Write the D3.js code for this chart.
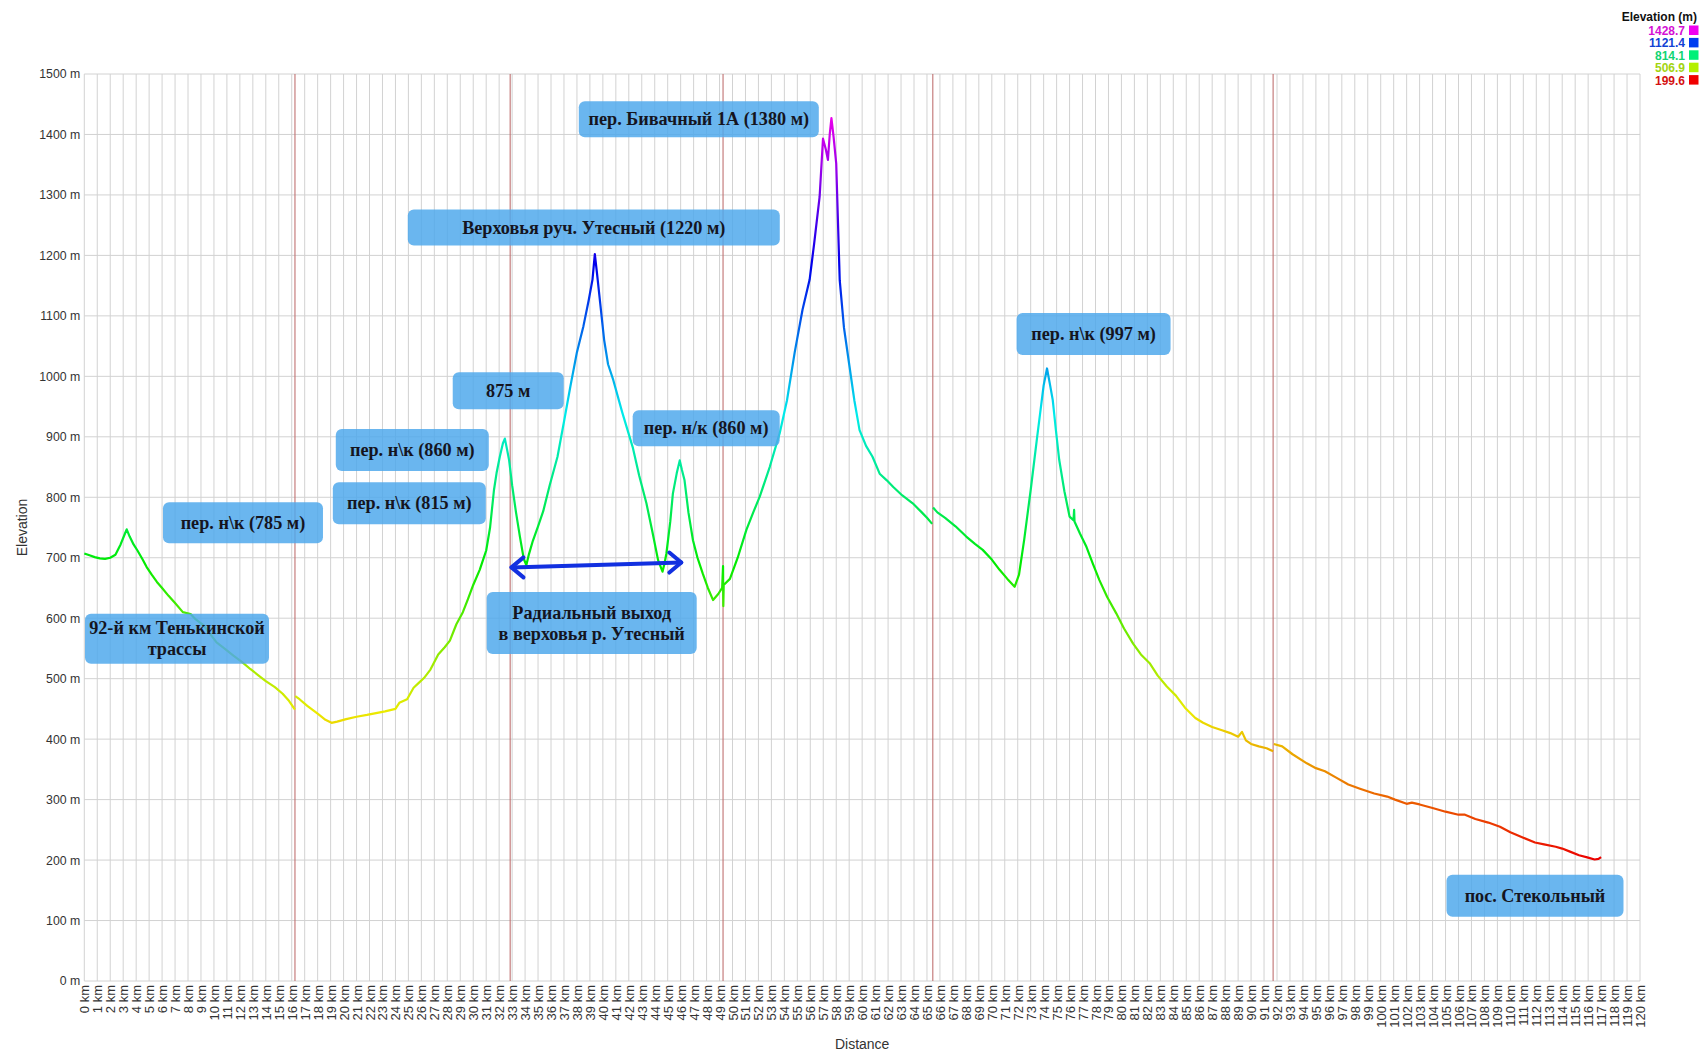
<!DOCTYPE html>
<html><head><meta charset="utf-8">
<script src="https://cdn.jsdelivr.net/npm/d3@7"></script>
<style>
html,body{margin:0;padding:0;background:#fff;}
svg{display:block;font-family:"Liberation Sans",Arial,sans-serif;}
</style></head>
<body><svg id="chart" width="1703" height="1051"></svg>
<script>
// ---- DATA ----
// distance (km) and elevation (m); null marks a break between track pieces
const distanceKm = [
0,0.4,0.8,1.2,1.6,2.0,2.4,2.8,3.1,3.27,3.5,3.8,4.1,4.5,4.8,5.2,5.6,6.0,6.5,7.0,7.6,8.2,8.6,9.2,9.7,10.2,10.8,11.5,12.2,12.8,13.4,14.0,14.7,15.3,15.8,16.25,
null,
16.27,16.6,17.2,18.0,18.6,19.07,19.5,20.2,21.0,21.8,22.5,23.2,24.0,24.3,24.9,25.4,25.8,26.2,26.7,27.3,27.8,28.2,28.7,29.2,29.6,30.0,30.5,31.0,31.3,31.6,31.8,32.05,32.3,32.44,32.6,32.77,33.0,33.3,33.6,33.9,34.1,34.3,34.6,35.0,35.4,35.9,36.5,37.0,37.5,38.0,38.5,38.9,39.2,39.38,39.55,39.8,40.1,40.4,40.8,41.5,42.3,42.8,43.36,43.8,44.26,44.6,44.75,44.9,45.2,45.4,45.7,45.93,46.1,46.3,46.6,46.95,47.3,47.7,48.1,48.5,48.9,49.2,49.27,49.29,49.32,49.8,50.4,51.07,51.6,52.1,52.87,53.64,54.2,54.8,55.4,55.95,56.3,56.72,56.98,57.2,57.36,57.5,57.63,57.8,58.0,58.27,58.6,59.0,59.4,59.8,60.3,60.8,61.35,61.9,62.4,63.1,63.9,64.6,65.0,65.4,
null,
65.47,65.8,66.4,67.2,68.03,68.7,69.3,70.0,70.6,71.2,71.76,72.1,72.5,73.0,73.5,74.0,74.26,74.5,74.7,74.95,75.2,75.6,76.0,76.3,76.35,76.38,76.8,77.3,77.8,78.3,78.9,79.6,80.2,80.9,81.5,82.2,82.8,83.5,84.2,84.9,85.7,86.3,87.0,87.7,88.4,89.0,89.3,89.6,90.0,90.6,91.2,91.7,
null,
91.75,92.4,93.2,94.3,95.0,95.7,96.6,97.5,98.4,99.5,100.5,101.1,102.0,102.4,103.0,104.0,105.0,106.0,106.5,107.3,108.3,109.2,110.0,111.0,111.9,112.6,113.5,114.0,114.6,115.3,116.0,116.5,116.8,117.0
];
const elevationM = [
707,704,701,699,698,700,705,722,738,747,735,722,712,697,685,672,660,650,637,625,610,607,598,588,574,560,550,538,527,516,506,496,486,475,463,449,
null,
471,466,455,442,432,427,429,433,437,440,443,446,450,460,466,485,493,501,515,540,552,563,590,610,632,655,680,712,750,812,840,867,890,897,880,861,820,775,735,698,688,706,728,752,777,820,867,925,984,1040,1083,1125,1160,1202,1170,1120,1060,1020,994,940,883,836,790,745,696,677,690,707,760,806,840,861,845,828,775,729,700,674,650,630,640,650,686,620,655,665,700,746,775,801,850,906,960,1040,1110,1160,1220,1297,1393,1375,1358,1400,1427,1395,1352,1159,1080,1020,960,911,885,867,839,828,817,803,790,775,766,756,
null,
783,775,766,752,735,723,713,697,680,665,652,672,730,812,900,985,1013,985,961,910,862,810,768,762,779,760,740,718,690,663,635,608,583,558,540,525,505,487,472,452,435,427,420,415,410,404,412,398,392,388,385,380,
null,
392,388,375,360,352,347,336,325,318,310,305,300,293,295,292,286,280,275,275,268,262,255,246,237,229,226,222,219,214,208,204,201,202,205
];
// positions (km) of the red lines between track pieces
const trackBreaksKm = [16.25, 32.85, 49.27, 65.45, 91.7];
// legend values (m)
const legendValues = [1428.7, 1121.4, 814.1, 506.9, 199.6];
// annotation texts
const annotationTexts = [
  ["пер. н\\к (785 м)"],
  ["92-й км Тенькинской","трассы"],
  ["пер. н\\к (860 м)"],
  ["пер. н\\к (815 м)"],
  ["875 м"],
  ["Радиальный выход","в верховья р. Утесный"],
  ["пер. н/к (860 м)"],
  ["Верховья руч. Утесный (1220 м)"],
  ["пер. Бивачный 1А (1380 м)"],
  ["пер. н\\к (997 м)"],
  ["пос. Стекольный"]
];
// radial exit arrow ends (km, m)
const arrowKm = [32.95, 46.05];
const arrowM = [684, 692];

// ---- LAYOUT ----
const W = 1703, H = 1051;
const plot = {left: 84.3, right: 1640, top: 74, bottom: 981};
// annotation box centres in data units and box sizes in px
const annotationLayout = [
  {km: 12.24, m: 758, w: 160, h: 41},
  {km: 7.15,  m: 566, w: 184, h: 50},
  {km: 25.3,  m: 878, w: 153, h: 42},
  {km: 25.07, m: 790, w: 153, h: 42},
  {km: 32.7,  m: 976, w: 111, h: 37},
  {km: 39.14, m: 592, w: 210, h: 62},
  {km: 47.97, m: 914, w: 147, h: 36},
  {km: 39.3,  m: 1246, w: 372, h: 36},
  {km: 47.4,  m: 1425, w: 240, h: 36},
  {km: 77.85, m: 1070, w: 154, h: 42},
  {km: 111.9, m: 141, w: 177, h: 42}
];

const svg = d3.select("#chart");
const x = d3.scaleLinear().domain([0, 120]).range([plot.left, plot.right]);
const y = d3.scaleLinear().domain([0, 1500]).range([plot.bottom, plot.top]);

const minE = legendValues[legendValues.length-1], maxE = legendValues[0];
const hueOf = v => Math.max(0, Math.min(300, (v - minE) / (maxE - minE) * 300));
const colorOf = v => d3.hsl(hueOf(v), 1, 0.46).formatHex();

// gradient for the line (vertical, by elevation)
const defs = svg.append("defs");
const grad = defs.append("linearGradient").attr("id", "elevGrad")
  .attr("gradientUnits", "userSpaceOnUse")
  .attr("x1", 0).attr("x2", 0).attr("y1", y(minE)).attr("y2", y(maxE));
d3.range(0, 1.0001, 0.05).forEach(t => {
  grad.append("stop").attr("offset", t).attr("stop-color", colorOf(minE + t * (maxE - minE)));
});

// grid
const grid = svg.append("g");
grid.selectAll("line.v").data(d3.range(0, 121)).join("line")
  .attr("x1", d => x(d)).attr("x2", d => x(d))
  .attr("y1", plot.top).attr("y2", plot.bottom)
  .attr("stroke", "#d2d2d2").attr("stroke-width", 1);
grid.selectAll("line.h").data(d3.range(0, 1501, 100)).join("line")
  .attr("x1", plot.left).attr("x2", plot.right)
  .attr("y1", d => y(d)).attr("y2", d => y(d))
  .attr("stroke", "#d2d2d2").attr("stroke-width", 1);

// track break lines
svg.append("g").selectAll("line").data(trackBreaksKm).join("line")
  .attr("x1", d => x(d)).attr("x2", d => x(d))
  .attr("y1", plot.top).attr("y2", plot.bottom)
  .attr("stroke", "#c07272").attr("stroke-width", 1.1);

// axes
const yAxis = d3.axisLeft(y).tickValues(d3.range(0, 1501, 100))
  .tickFormat(d => d + " m").tickSize(0).tickPadding(4);
const gy = svg.append("g").attr("transform", `translate(${plot.left},0)`).call(yAxis);
gy.select(".domain").remove();
gy.selectAll("text").attr("font-size", 12.3).attr("fill", "#333")
  .attr("font-family", "'Liberation Sans',Arial,sans-serif");

const xAxis = d3.axisBottom(x).tickValues(d3.range(0, 121, 1))
  .tickFormat(d => d + " km").tickSize(0).tickPadding(0);
const gx = svg.append("g").attr("transform", `translate(0,${plot.bottom})`).call(xAxis);
gx.select(".domain").remove();
gx.selectAll("text")
  .attr("font-size", 13).attr("fill", "#333")
  .attr("font-family", "'Liberation Sans',Arial,sans-serif")
  .attr("text-anchor", "end")
  .attr("dy", null).attr("y", 0)
  .attr("transform", "translate(0,4) rotate(-90)")
  .attr("dominant-baseline", "central");

// axis titles
svg.append("text").attr("x", (plot.left + plot.right) / 2).attr("y", 1049)
  .attr("text-anchor", "middle").attr("font-size", 14).attr("fill", "#333").text("Distance");
svg.append("text").attr("transform", `translate(27,${(plot.top + plot.bottom) / 2}) rotate(-90)`)
  .attr("text-anchor", "middle").attr("font-size", 14).attr("fill", "#333").text("Elevation");

// profile line
const pts = distanceKm.map((d, i) => ({km: d, m: elevationM[i]}));
const line = d3.line().defined(d => d.km !== null && d.m !== null)
  .x(d => x(d.km)).y(d => y(d.m));
svg.append("path").datum(pts).attr("d", line)
  .attr("fill", "none").attr("stroke", "url(#elevGrad)")
  .attr("stroke-width", 2.2).attr("stroke-linejoin", "round");

// annotation boxes
const ann = svg.append("g");
annotationTexts.forEach((lines, i) => {
  const L = annotationLayout[i];
  const cx = x(L.km), cy = y(L.m);
  const g = ann.append("g");
  g.append("rect").attr("x", cx - L.w / 2).attr("y", cy - L.h / 2)
    .attr("width", L.w).attr("height", L.h).attr("rx", 6).attr("ry", 6)
    .attr("fill", "rgb(78,168,236)").attr("fill-opacity", 0.84);
  const lh = 21;
  lines.forEach((t, j) => {
    g.append("text").attr("x", cx).attr("y", cy + (j - (lines.length - 1) / 2) * lh)
      .attr("text-anchor", "middle").attr("dominant-baseline", "central")
      .attr("font-family", "'Liberation Serif','Times New Roman',serif")
      .attr("font-weight", "bold").attr("font-size", 18.2).attr("fill", "#15151f")
      .text(t);
  });
});

// double arrow
const ax1 = x(arrowKm[0]), ay1 = y(arrowM[0]), ax2 = x(arrowKm[1]), ay2 = y(arrowM[1]);
const arrow = svg.append("g").attr("stroke", "#1230e0").attr("stroke-width", 4)
  .attr("fill", "none").attr("stroke-linecap", "round").attr("stroke-linejoin", "round");
arrow.append("line").attr("x1", ax1).attr("y1", ay1).attr("x2", ax2).attr("y2", ay2);
arrow.append("path").attr("d", `M${ax1 + 12},${ay1 - 10} L${ax1},${ay1} L${ax1 + 12},${ay1 + 10}`);
arrow.append("path").attr("d", `M${ax2 - 12},${ay2 - 10} L${ax2},${ay2} L${ax2 - 12},${ay2 + 10}`);

// legend
const lg = svg.append("g");
lg.append("text").attr("x", 1697).attr("y", 21).attr("text-anchor", "end")
  .attr("font-size", 12).attr("font-weight", "bold").attr("fill", "#111").text("Elevation (m)");
legendValues.forEach((v, i) => {
  const yy = 35 + i * 12.4;
  lg.append("text").attr("x", 1685).attr("y", yy).attr("text-anchor", "end")
    .attr("font-size", 12).attr("font-weight", "bold")
    .attr("fill", d3.hsl(hueOf(v), 0.85, 0.45).formatHex()).text(v.toFixed(1));
  lg.append("rect").attr("x", 1689).attr("y", yy - 9.5).attr("width", 9.5).attr("height", 9.5)
    .attr("fill", d3.hsl(hueOf(v), 1, 0.47).formatHex());
});
</script>
</body></html>
